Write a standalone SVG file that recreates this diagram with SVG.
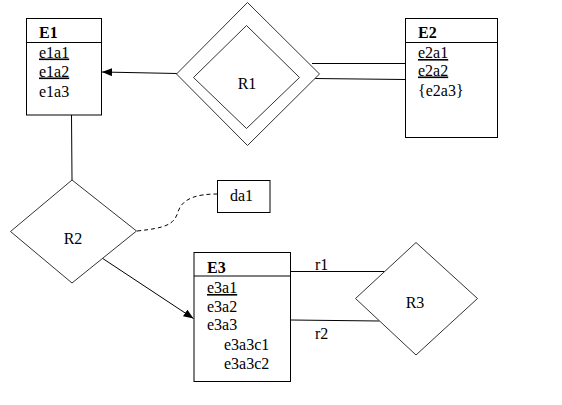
<svg xmlns="http://www.w3.org/2000/svg" width="562" height="405" viewBox="0 0 562 405">
<defs>
<marker id="arr" viewBox="0 0 10 8" refX="10" refY="4" markerWidth="10" markerHeight="8" markerUnits="userSpaceOnUse" orient="auto">
<path d="M0,0 L10,4 L0,8 z" fill="#000"/>
</marker>
</defs>
<g id="connectors" stroke="#000" stroke-width="1" fill="none">
<line x1="177" y1="73.5" x2="102" y2="72" marker-end="url(#arr)"/>
<line x1="312" y1="63.5" x2="405" y2="63.5"/>
<line x1="314.5" y1="78.5" x2="405" y2="79.5"/>
<line x1="71.5" y1="115" x2="72" y2="180"/>
<path stroke-dasharray="4 3" d="M137,231 C165,228 174,225 178,212 C182,198 198,194 217,194"/>
<line x1="102" y1="258" x2="193.5" y2="318.5" marker-end="url(#arr)"/>
<line x1="291" y1="271.5" x2="384.5" y2="271.5"/>
<line x1="291" y1="320" x2="379.5" y2="321"/>
</g>
<g id="labels">
<text x="315" y="270" font-family="Liberation Serif" font-size="16">r1</text>
<text x="315" y="339" font-family="Liberation Serif" font-size="16">r2</text>
</g>
<g id="E1">
<rect x="26.5" y="18.5" width="75" height="96.5" fill="#fff" stroke="#000"/>
<line x1="26.5" y1="42.5" x2="101.5" y2="42.5" stroke="#000"/>
<text x="39" y="38" font-family="Liberation Serif" font-size="16" font-weight="bold">E1</text>
<text x="39" y="57.5" font-family="Liberation Serif" font-size="16" text-decoration="underline">e1a1</text>
<text x="39" y="76.5" font-family="Liberation Serif" font-size="16" text-decoration="underline">e1a2</text>
<text x="39" y="97" font-family="Liberation Serif" font-size="16">e1a3</text>
</g>
<g id="R1">
<polygon points="247.5,2.5 319.5,74 247.5,145.5 176.5,74" fill="#fff" stroke="#333"/>
<polygon points="246.5,25.5 299.5,77.5 246.5,128.5 193.5,77.5" fill="#fff" stroke="#333"/>
<text x="247" y="89" text-anchor="middle" font-family="Liberation Serif" font-size="16">R1</text>
</g>
<g id="E2">
<rect x="405.5" y="18.5" width="92" height="119" fill="#fff" stroke="#000"/>
<line x1="405.5" y1="42.5" x2="497.5" y2="42.5" stroke="#000"/>
<text x="418" y="38" font-family="Liberation Serif" font-size="16" font-weight="bold">E2</text>
<text x="418" y="58" font-family="Liberation Serif" font-size="16" text-decoration="underline">e2a1</text>
<text x="418" y="75.5" font-family="Liberation Serif" font-size="16" text-decoration="underline">e2a2</text>
<text x="418" y="96" font-family="Liberation Serif" font-size="16">{e2a3}</text>
</g>
<g id="R2">
<polygon points="72,180 136.5,231 72,283 10.5,231.5" fill="#fff" stroke="#333"/>
<text x="73" y="244" text-anchor="middle" font-family="Liberation Serif" font-size="16">R2</text>
</g>
<g id="da1">
<rect x="217.5" y="180.5" width="52.5" height="32" fill="#fff" stroke="#000"/>
<text x="230" y="201" font-family="Liberation Serif" font-size="16">da1</text>
</g>
<g id="E3">
<rect x="194" y="252.5" width="96.5" height="129" fill="#fff" stroke="#000"/>
<line x1="194" y1="276" x2="290.5" y2="276" stroke="#000"/>
<text x="207" y="273" font-family="Liberation Serif" font-size="16" font-weight="bold">E3</text>
<text x="207" y="293" font-family="Liberation Serif" font-size="16" text-decoration="underline">e3a1</text>
<text x="207" y="311.5" font-family="Liberation Serif" font-size="16">e3a2</text>
<text x="207" y="330" font-family="Liberation Serif" font-size="16">e3a3</text>
<text x="224" y="350" font-family="Liberation Serif" font-size="16">e3a3c1</text>
<text x="224" y="369" font-family="Liberation Serif" font-size="16">e3a3c2</text>
</g>
<g id="R3">
<polygon points="416,242.5 477.5,298.5 416,355 355.5,298.5" fill="#fff" stroke="#333"/>
<text x="415" y="308" text-anchor="middle" font-family="Liberation Serif" font-size="16">R3</text>
</g>
</svg>
